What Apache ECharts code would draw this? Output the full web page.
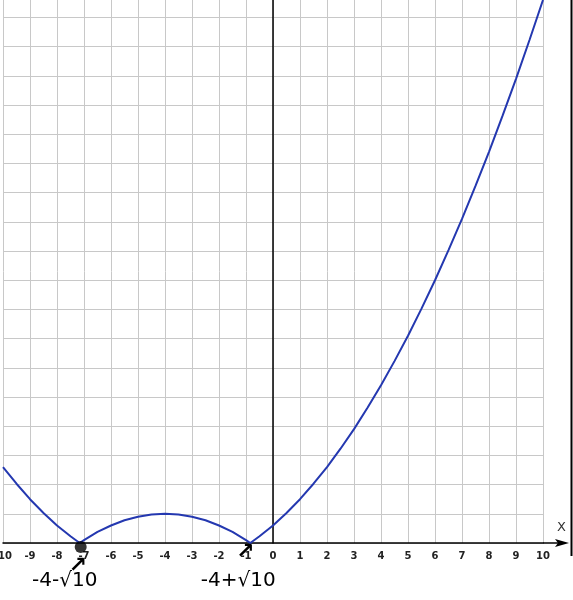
<!DOCTYPE html>
<html>
<head>
<meta charset="utf-8">
<script src="https://cdn.jsdelivr.net/npm/echarts@6/dist/echarts.min.js"></script>
<style>
    html, body { margin: 0; padding: 0; background: #fff; }
    #graph-chart { width: 573px; height: 600px; }
</style>
</head>
<body>
<div id="graph-chart"></div>
<script>
    // points (x, y)
    var xs = [-10, -9.5, -9, -8.5, -8, -7.5, -7.16, -7, -6.5, -6, -5.5, -5, -4.5, -4, -3.5, -3, -2.5, -2, -1.5, -1, -0.84,
        -0.5, 0, 0.5, 1, 1.5, 2, 2.5, 3, 3.5, 4, 4.5, 5, 5.5, 6, 6.5, 7, 7.5, 8, 8.5, 9, 9.5, 10];
    var ys = [26, 20.3, 15, 10.3, 6, 2.3, 0, 1, 3.8, 6, 7.8, 9, 9.8, 10, 9.8, 9, 7.8, 6, 3.8, 1, 0,
        2.3, 6, 10.3, 15, 20.3, 26, 32.3, 39, 46.3, 54, 62.3, 71, 80.3, 90, 100.3, 111, 122.3, 134, 146.3, 159, 172.3, 186];
    var rootLeft = [-7.16, 0];
    var notes = ['-4-√10', '-4+√10'];
    var noteX = [-7.16, -0.84];

    var chart = echarts.init(document.getElementById('graph-chart'));
    var curve = [];
    for (var i = 0; i < xs.length; i++) {
        curve.push([xs[i], ys[i]]);
    }

    var option = {
        animation: false,
        grid: { left: 3, right: 30, top: 0, bottom: 57, containLabel: false, outerBoundsMode: 'none' },
        xAxis: {
            type: 'value',
            min: -10,
            max: 10,
            interval: 1,
            axisLine: { show: true, lineStyle: { color: '#000', width: 1.5 } },
            axisTick: { show: false },
            axisLabel: {
                color: '#222',
                fontSize: 10,
                fontWeight: 'bold',
                fontFamily: 'DejaVu Sans',
                margin: 8,
                hideOverlap: false
            },
            splitLine: { show: true, lineStyle: { color: '#c8c8c8', width: 1 } }
        },
        yAxis: {
            type: 'value',
            min: 0,
            max: 186,
            interval: 10,
            axisLine: { show: true, onZero: true, lineStyle: { color: '#000', width: 1.5 } },
            axisTick: { show: false },
            axisLabel: { show: false },
            splitLine: { show: true, showMaxLine: false, lineStyle: { color: '#c8c8c8', width: 1 } }
        },
        series: [
            {
                type: 'line',
                data: curve,
                showSymbol: false,
                clip: true,
                lineStyle: { color: '#2438b0', width: 2 },
                z: 3
            },
            { // 手写的黑点
                type: 'scatter',
                data: [rootLeft],
                symbolSize: 12,
                symbolOffset: [1, 4],
                itemStyle: { color: '#000' },
                z: 4
            }
        ]
    };
    chart.setOption(option);

    // 箭头、X 标签、右边框、手写注释
    var end = chart.convertToPixel({ gridIndex: 0 }, [10, 0]);
    var graphics = [
        {
            type: 'line',
            shape: { x1: end[0], y1: end[1], x2: 562, y2: end[1] },
            style: { stroke: '#000', lineWidth: 1.5 }
        },
        {
            type: 'polygon',
            shape: { points: [[569, end[1]], [555, end[1] - 4], [558, end[1]], [555, end[1] + 4]] },
            style: { fill: '#000' }
        },
        {
            type: 'text',
            x: 557, y: end[1] - 22,
            style: { text: 'X', fill: '#333', font: '13px "DejaVu Sans"' }
        },
        {
            type: 'line',
            shape: { x1: 571.5, y1: 0, x2: 571.5, y2: 556 },
            style: { stroke: '#000', lineWidth: 2 }
        }
    ];
    for (var k = 0; k < notes.length; k++) {
        var p = chart.convertToPixel({ gridIndex: 0 }, [noteX[k], 0]);
        graphics.push({
            type: 'text',
            x: p[0] - (k === 0 ? 2 : 5), y: p[1] + (k === 0 ? 12 : -2),
            style: { text: '↗', fill: '#000', font: 'bold 22px "DejaVu Sans"', align: 'center' }
        });
        graphics.push({
            type: 'text',
            x: p[0] - (k === 0 ? 15 : 12), y: 571,
            style: { text: notes[k], fill: '#000', font: '20px "DejaVu Sans"', align: 'center' }
        });
    }
    chart.setOption({ graphic: graphics });
</script>
</body>
</html>
